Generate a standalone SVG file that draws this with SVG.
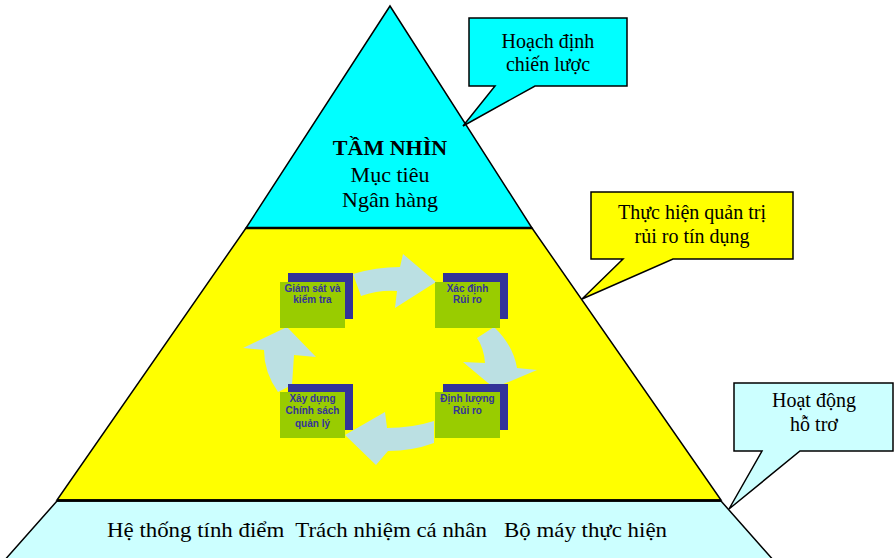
<svg xmlns="http://www.w3.org/2000/svg" width="895" height="558" viewBox="0 0 895 558">
<style>
.edge{stroke:#000;stroke-width:1.5;stroke-linejoin:miter}
.t{font-family:"Liberation Serif","Times New Roman",serif;font-size:20px;fill:#000;text-anchor:middle}
.m{font-size:22px}
.b{font-weight:bold}
.green{fill:#99CC00}
.shadow{fill:#333399}
.small{font-family:"Liberation Sans",Arial,sans-serif;font-size:10px;font-weight:bold;fill:#333399;text-anchor:middle}
.arrow{fill:#BBE0E3}
</style>
<rect width="895" height="558" fill="#fff"/>
<g id="base-tier">
<path class="edge" d="M57,501 L721,501 L775,562 L3,562 Z" fill="#CCFFFF"/>
<text class="t m" x="387" y="537" xml:space="preserve" textLength="560" lengthAdjust="spacingAndGlyphs">Hệ thống tính điểm  Trách nhiệm cá nhân   Bộ máy thực hiện</text>
</g>
<g id="middle-tier">
<path class="edge" d="M246,228 L532,228 L721,500 L57,500 Z" fill="#FFFF00"/>
</g>
<g id="top-tier">
<path class="edge" d="M390,6 L532,228 L246,228 Z" fill="#00FFFF"/>
<text class="t m b" x="390" y="155">TẦM NHÌN</text>
<text class="t m" x="390" y="182">Mục tiêu</text>
<text class="t m" x="390" y="207">Ngân hàng</text>
</g>
<g id="tier-lines">
<line x1="246" y1="228" x2="532" y2="228" stroke="#000" stroke-width="2.5"/>
<line x1="57" y1="500.5" x2="721" y2="500.5" stroke="#000" stroke-width="2.5"/>
</g>
<g id="connectors">
<path class="arrow" d="M353,274 Q376,267 400,267 L403,254 L436,282 L395,308 L397,291 Q378,290 361,296 Z"/>
<path class="arrow" d="M494,327 Q513,345 517,368 L537,370 L494,388 L463,362 L485,363 Q484,348 477,338 Z"/>
<path class="arrow" d="M434,443 Q412,451 388,451 L376,465 L345,435 L385,412 L387,428 Q412,428 434,421 Z"/>
<path class="arrow" d="M278,392 Q264,372 264,350 L243,348 L287,327 L316,357 L294,355 Q293,370 292,385 Z"/>
</g>
<g id="step-giam-sat">
<rect class="shadow" x="288" y="273" width="65" height="46"/>
<rect class="green" x="280" y="282" width="65" height="46"/>
<text class="small" x="312.5" y="292">Giám sát và</text>
<text class="small" x="312.5" y="303">kiểm tra</text>
</g>
<g id="step-xac-dinh">
<rect class="shadow" x="443" y="273" width="65" height="46"/>
<rect class="green" x="435" y="282" width="65" height="46"/>
<text class="small" x="467.5" y="292">Xác định</text>
<text class="small" x="467.5" y="303">Rủi ro</text>
</g>
<g id="step-xay-dung">
<rect class="shadow" x="288" y="384" width="65" height="46"/>
<rect class="green" x="280" y="392" width="65" height="46"/>
<text class="small" x="312.5" y="402">Xây dựng</text>
<text class="small" x="312.5" y="414">Chính sách</text>
<text class="small" x="312.5" y="426.5">quản lý</text>
</g>
<g id="step-dinh-luong">
<rect class="shadow" x="443" y="384" width="65" height="46"/>
<rect class="green" x="435" y="392" width="65" height="46"/>
<text class="small" x="467.5" y="402">Định lượng</text>
<text class="small" x="467.5" y="414">Rủi ro</text>
</g>
<g id="callout-hoach-dinh">
<path class="edge" d="M469,18 H627 V86 H535 L463,126 L495,86 H469 Z" fill="#00FFFF"/>
<text class="t" x="548" y="48">Hoạch định</text>
<text class="t" x="548" y="71">chiến lược</text>
</g>
<g id="callout-thuc-hien">
<path class="edge" d="M591,192 H793 V259 H673 L582,299 L623,259 H591 Z" fill="#FFFF00"/>
<text class="t" x="692" y="219">Thực hiện quản trị</text>
<text class="t" x="692" y="243">rủi ro tín dụng</text>
</g>
<g id="callout-hoat-dong">
<path class="edge" d="M734,383 H893 V451 H800 L729,509 L762,451 H734 Z" fill="#CCFFFF"/>
<text class="t" x="814" y="407">Hoạt động</text>
<text class="t" x="814" y="431">hỗ trơ</text>
</g>
</svg>
